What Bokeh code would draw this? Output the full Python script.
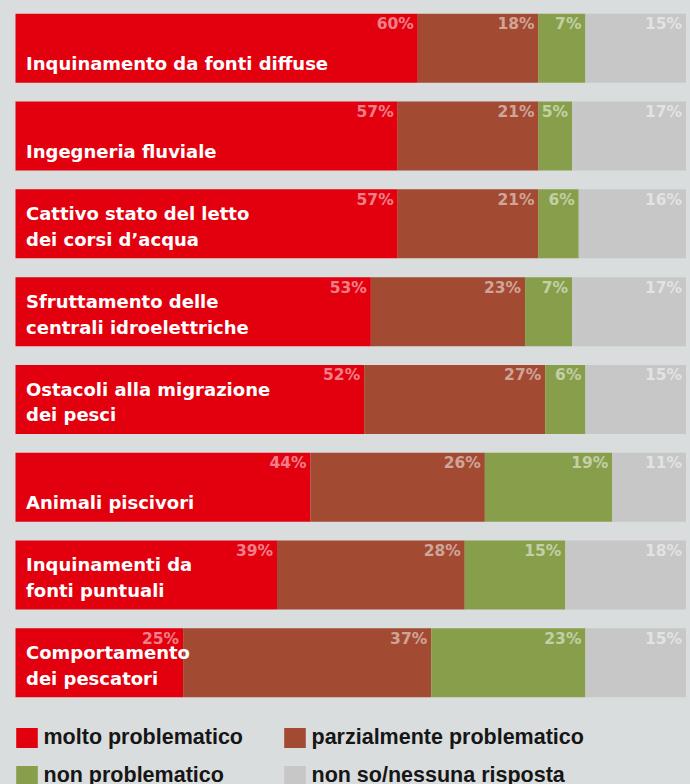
from bokeh.plotting import figure
from bokeh.models import ColumnDataSource, Range1d, Legend, LegendItem
from bokeh.core.properties import value
from bokeh.embed import file_html
from bokeh.resources import INLINE

# ---- data ----
categories = [
    "Inquinamento da fonti diffuse",
    "Ingegneria fluviale",
    "Cattivo stato del letto\ndei corsi d\u2019acqua",
    "Sfruttamento delle\ncentrali idroelettriche",
    "Ostacoli alla migrazione\ndei pesci",
    "Animali piscivori",
    "Inquinamenti da\nfonti puntuali",
    "Comportamento\ndei pescatori",
]
molto = [60, 57, 57, 53, 52, 44, 39, 25]
parziale = [18, 21, 21, 23, 27, 26, 28, 37]
non_prob = [7, 5, 6, 7, 6, 19, 15, 23]
non_so = [15, 17, 16, 17, 15, 11, 18, 15]

series_names = ["molto problematico", "parzialmente problematico",
                "non problematico", "non so/nessuna risposta"]
series_keys = ["molto", "parziale", "non_prob", "non_so"]
colors = ["#e2000f", "#a24a32", "#879f4b", "#c6c7c6"]

BG = "#dadddd"

ys = list(range(len(categories)))
source = ColumnDataSource(dict(y=ys, molto=molto, parziale=parziale,
                               non_prob=non_prob, non_so=non_so))

p = figure(width=690, height=784, output_backend="svg", toolbar_location=None,
           x_range=Range1d(-2.237, 100.67), y_range=Range1d(8.387, -0.5445),
           min_border=0, min_border_left=0, min_border_right=0,
           min_border_top=0, min_border_bottom=0)
p.background_fill_color = BG
p.border_fill_color = BG
p.outline_line_color = None
p.axis.visible = False
p.grid.visible = False

renderers = p.hbar_stack(series_keys, y="y", height=0.786, color=colors,
                         line_color=None, source=source)

# percentage labels, right-aligned at the end of each segment
cum = [0] * len(categories)
for key, vals in zip(series_keys, [molto, parziale, non_prob, non_so]):
    ends = [c + v for c, v in zip(cum, vals)]
    p.text(x=ends, y=ys, text=[f"{v}%" for v in vals],
           text_font=value("DejaVu Sans"), text_font_style="bold",
           text_font_size="15.5px", text_color="white", text_alpha=0.5,
           text_align="right", text_baseline="alphabetic",
           x_offset=-4, y_offset=-24)
    cum = ends

# category labels (one or two lines, bottom-anchored)
bottom_lines = [c.split("\n")[-1] for c in categories]
top_lines = [c.split("\n")[0] if "\n" in c else "" for c in categories]
zeros = [0] * len(categories)
p.text(x=zeros, y=ys, text=bottom_lines, text_font=value("DejaVu Sans"),
       text_font_style="bold", text_font_size="18px", text_color="white",
       text_align="left", text_baseline="alphabetic", x_offset=10.5, y_offset=15.5)
p.text(x=zeros, y=ys, text=top_lines, text_font=value("DejaVu Sans"),
       text_font_style="bold", text_font_size="18px", text_color="white",
       text_align="left", text_baseline="alphabetic", x_offset=10.5, y_offset=-10.2)

# legends (two columns)
def make_legend(idx, loc):
    items = [LegendItem(label=series_names[i], renderers=[renderers[i]]) for i in idx]
    lg = Legend(items=items, location=loc, orientation="vertical",
                glyph_width=27, glyph_height=25, label_height=25,
                spacing=13, padding=0, margin=0, label_standoff=4,
                label_text_font="Liberation Sans", label_text_font_style="bold",
                label_text_font_size="21.5px", label_text_color="#161616",
                border_line_alpha=0, background_fill_alpha=0)
    p.add_layout(lg, "center")

make_legend([0, 2], (12.5, -3.5))
make_legend([1, 3], (280.5, -3.5))

html = file_html(p, INLINE)
html = html.replace("<head>", "<head><style>html,body{margin:0;padding:0;overflow:hidden;background:%s}</style>" % BG, 1)
open("out.html", "w").write(html)
